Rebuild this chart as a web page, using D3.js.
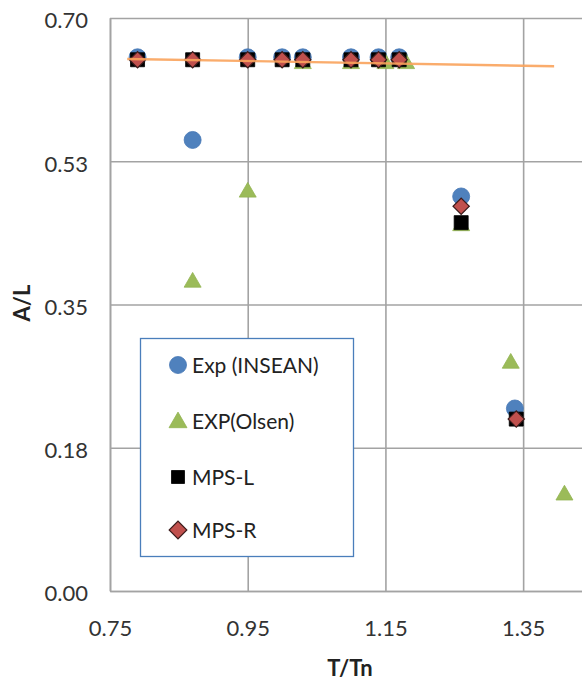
<!DOCTYPE html>
<html>
<head>
<meta charset="utf-8">
<script src="https://cdn.jsdelivr.net/npm/d3@7"></script>
<style>
  html, body { margin: 0; padding: 0; background: #fff; overflow: hidden; }
  svg { display: block; font-family: Lato, "Open Sans", sans-serif; }
</style>
</head>
<body>
<svg id="chart" width="582" height="683"></svg>
<script>
// Wave amplitude ratio A/L against period ratio T/Tn
const insenT = [0.79, 0.87, 0.95, 1.00, 1.03, 1.10, 1.14, 1.17, 1.26, 1.338];
const insenA = [0.652, 0.551, 0.652, 0.652, 0.652, 0.652, 0.652, 0.652, 0.482, 0.223];

const olsenT = [0.87, 0.95, 1.03, 1.10, 1.15, 1.18, 1.26, 1.332, 1.41];
const olsenA = [0.379, 0.489, 0.646, 0.646, 0.646, 0.646, 0.448, 0.280, 0.119];

const mpsLT = [0.79, 0.87, 0.95, 1.00, 1.03, 1.10, 1.14, 1.17, 1.26, 1.34];
const mpsLA = [0.649, 0.649, 0.649, 0.649, 0.649, 0.649, 0.649, 0.649, 0.450, 0.210];

const mpsRT = [0.79, 0.87, 0.95, 1.00, 1.03, 1.10, 1.14, 1.17, 1.26, 1.34];
const mpsRA = [0.649, 0.649, 0.649, 0.649, 0.649, 0.649, 0.649, 0.649, 0.470, 0.210];

// linear trend through the flat branch
const trendT = [0.775, 1.395];
const trendA = [0.650, 0.641];

const xTicks = [0.75, 0.95, 1.15, 1.35];
const xTickLabels = ["0.75", "0.95", "1.15", "1.35"];
const yTicks = [0, 0.175, 0.35, 0.525, 0.70];
const yTickLabels = ["0.00", "0.18", "0.35", "0.53", "0.70"];

const seriesNames = ["Exp (INSEAN)", "EXP(Olsen)", "MPS-L", "MPS-R"];

const svg = d3.select("#chart");
const plotLeft = 110, plotTop = 18, plotBottom = 591, plotRight = 592;

const x = d3.scaleLinear().domain([0.75, 1.45]).range([plotLeft, plotRight]);
const y = d3.scaleLinear().domain([0, 0.70]).range([plotBottom, plotTop]);

const gridColor = "#a3a3a3";
const textColor = "#333";

// gridlines + axes
const yAxis = d3.axisLeft(y)
  .tickValues(yTicks)
  .tickFormat((d, i) => yTickLabels[i])
  .tickSizeInner(-(plotRight - plotLeft))
  .tickSizeOuter(0)
  .tickPadding(22);
const gy = svg.append("g").attr("transform", `translate(${plotLeft},0)`).call(yAxis);
gy.select(".domain").attr("stroke", gridColor).attr("stroke-width", 1.6);
gy.selectAll(".tick line").attr("stroke", gridColor).attr("stroke-width", 1.6);
gy.selectAll(".tick text")
  .attr("fill", textColor).attr("font-size", 22)
  .attr("dy", "0.38em").attr("y", 1.5);

const xAxis = d3.axisBottom(x)
  .tickValues(xTicks)
  .tickFormat((d, i) => xTickLabels[i])
  .tickSizeInner(-(plotBottom - plotTop))
  .tickSizeOuter(0)
  .tickPadding(29);
const gx = svg.append("g").attr("transform", `translate(0,${plotBottom})`).call(xAxis);
gx.select(".domain").attr("stroke", gridColor).attr("stroke-width", 1.6);
gx.selectAll(".tick line").attr("stroke", gridColor).attr("stroke-width", 1.6);
gx.selectAll(".tick text").attr("fill", textColor).attr("font-size", 22);
gy.selectAll("text").attr("font-family", "Lato, sans-serif");
gx.selectAll("text").attr("font-family", "Lato, sans-serif");

// axis titles
svg.append("text")
  .attr("x", 350).attr("y", 668).attr("dy", "0.36em")
  .attr("text-anchor", "middle")
  .attr("font-size", 22).attr("font-weight", "bold").attr("fill", "#222")
  .text("T/Tn");
svg.append("text")
  .attr("transform", "translate(22,303) rotate(-90)")
  .attr("dy", "0.36em")
  .attr("text-anchor", "middle")
  .attr("font-size", 22).attr("font-weight", "bold").attr("fill", "#222")
  .text("A/L");

// marker shapes (diamond = square turned 45°)
const sym = {
  circle: d3.symbol().type(d3.symbolCircle).size(Math.PI * 8.5 * 8.5),
  triangle: d3.symbol().type(d3.symbolTriangle).size(125),
  square: d3.symbol().type(d3.symbolSquare).size(14 * 14),
  diamond: d3.symbol().type(d3.symbolSquare).size(11.5 * 11.5)
};
const styles = [
  { shape: "circle", fill: "#4f81bd", stroke: "#4677b5", sw: 0.8, rot: 0 },
  { shape: "triangle", fill: "#9bbb59", stroke: "#92b450", sw: 0.8, rot: 0 },
  { shape: "square", fill: "#000", stroke: "#000", sw: 0.8, rot: 0 },
  { shape: "diamond", fill: "#c0504d", stroke: "#3a1b1b", sw: 1.2, rot: 45 }
];
const series = [
  d3.zip(insenT, insenA),
  d3.zip(olsenT, olsenA),
  d3.zip(mpsLT, mpsLA),
  d3.zip(mpsRT, mpsRA)
];

const plot = svg.append("g");
series.forEach((pts, i) => {
  const st = styles[i];
  plot.append("g").selectAll("path").data(pts).join("path")
    .attr("d", sym[st.shape])
    .attr("transform", d => {
      // triangle centred on its bounding box
      const dy = st.shape === "triangle" ? 1.5 : 0;
      return `translate(${x(d[0])},${y(d[1]) + dy}) rotate(${st.rot})`;
    })
    .attr("fill", st.fill).attr("stroke", st.stroke).attr("stroke-width", st.sw);
});

// trend line
const line = d3.line().x(d => x(d[0])).y(d => y(d[1]));
plot.append("path")
  .datum(d3.zip(trendT, trendA))
  .attr("d", line)
  .attr("fill", "none")
  .attr("stroke", "#f9a35c")
  .attr("stroke-width", 2.4)
  .attr("stroke-opacity", 0.9);

// legend
const lg = svg.append("g");
lg.append("rect")
  .attr("x", 140.5).attr("y", 338.5).attr("width", 213).attr("height", 218)
  .attr("fill", "#fff").attr("stroke", "#4a7ebb").attr("stroke-width", 1.3);
const rowY = [365, 421, 477, 530];
const legendSym = {
  circle: sym.circle,
  triangle: d3.symbol().type(d3.symbolTriangle).size(140),
  square: d3.symbol().type(d3.symbolSquare).size(13 * 13),
  diamond: d3.symbol().type(d3.symbolSquare).size(12.5 * 12.5)
};
seriesNames.forEach((name, i) => {
  const st = styles[i];
  const dy = st.shape === "triangle" ? 1.5 : 0;
  lg.append("path")
    .attr("d", legendSym[st.shape]())
    .attr("transform", `translate(178,${rowY[i] + dy}) rotate(${st.rot})`)
    .attr("fill", st.fill).attr("stroke", st.stroke).attr("stroke-width", st.sw);
  lg.append("text")
    .attr("x", 192).attr("y", rowY[i]).attr("dy", "0.36em")
    .attr("font-size", 21).attr("fill", "#222")
    .text(name);
});
</script>
</body>
</html>
